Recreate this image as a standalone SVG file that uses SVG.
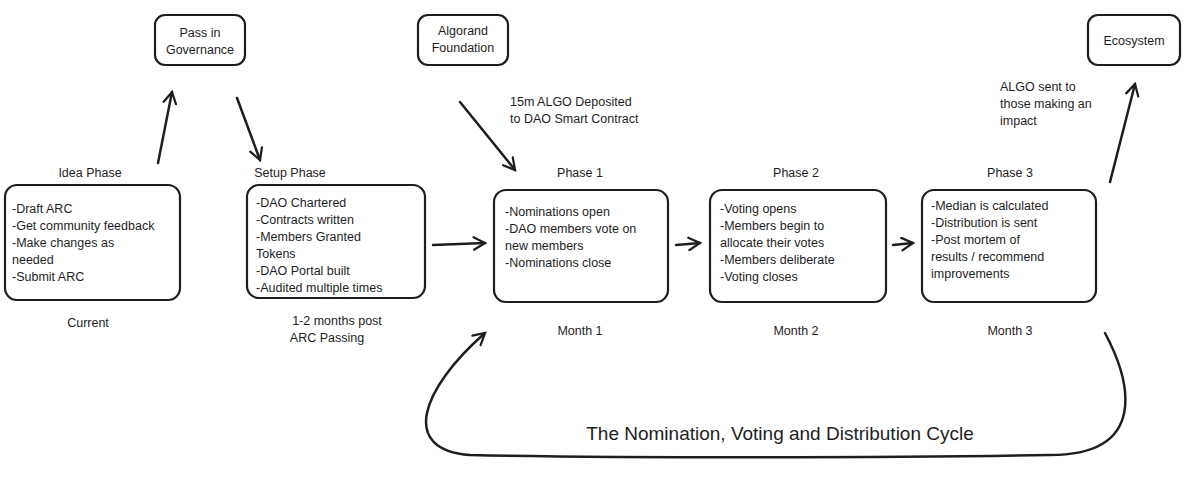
<svg xmlns="http://www.w3.org/2000/svg" width="1200" height="479" viewBox="0 0 1200 479">
<style>
.b{fill:#fff;stroke:#1e1e1e;stroke-width:2.2}
.t{font-family:"Liberation Sans",sans-serif;font-size:12.5px;fill:#1e1e1e}
.c{text-anchor:middle}
.l{fill:none;stroke:#1e1e1e;stroke-width:2.5;stroke-linecap:round;marker-end:url(#a)}
</style>
<defs><marker id="a" viewBox="0 0 12 12" refX="10" refY="6" markerWidth="6" markerHeight="6" orient="auto" markerUnits="strokeWidth"><path d="M1,1 L10,6 L1,11" fill="none" stroke="#1e1e1e" stroke-width="1.8" stroke-linecap="round"/></marker></defs>
<rect width="1200" height="479" fill="#fff"/>
<g id="idea"><text class="t c" x="90" y="177">Idea Phase</text><rect class="b" x="5" y="185" width="175" height="115" rx="12"/>
<text class="t" x="12" y="213">-Draft ARC</text><text class="t" x="12" y="230">-Get community feedback</text><text class="t" x="12" y="247">-Make changes as</text><text class="t" x="12" y="264">needed</text><text class="t" x="12" y="281">-Submit ARC</text>
<text class="t c" x="88" y="327">Current</text></g>
<g id="pass"><rect class="b" x="155" y="15" width="90" height="50" rx="10"/><text class="t c" x="200" y="37">Pass in</text><text class="t c" x="200" y="54">Governance</text></g>
<g id="setup"><text class="t c" x="290" y="177">Setup Phase</text><rect class="b" x="247" y="185" width="178" height="113" rx="12"/>
<text class="t" x="256" y="207">-DAO Chartered</text><text class="t" x="256" y="224">-Contracts written</text><text class="t" x="256" y="241">-Members Granted</text><text class="t" x="256" y="258">Tokens</text><text class="t" x="256" y="275">-DAO Portal built</text><text class="t" x="256" y="292">-Audited multiple times</text>
<text class="t c" x="337" y="325">1-2 months post</text><text class="t c" x="327" y="342">ARC Passing</text></g>
<g id="algorand"><rect class="b" x="418" y="15" width="90" height="50" rx="10"/><text class="t c" x="463" y="35">Algorand</text><text class="t c" x="463" y="52">Foundation</text></g>
<text class="t" x="510" y="106">15m ALGO Deposited</text><text class="t" x="510" y="123">to DAO Smart Contract</text>
<g id="p1"><text class="t c" x="580" y="177">Phase 1</text><rect class="b" x="494" y="190" width="174" height="112" rx="12"/>
<text class="t" x="505" y="216">-Nominations open</text><text class="t" x="505" y="233">-DAO members vote on</text><text class="t" x="505" y="250">new members</text><text class="t" x="505" y="267">-Nominations close</text>
<text class="t c" x="580" y="335">Month 1</text></g>
<g id="p2"><text class="t c" x="796" y="177">Phase 2</text><rect class="b" x="710" y="190" width="176" height="112" rx="12"/>
<text class="t" x="720" y="213">-Voting opens</text><text class="t" x="720" y="230">-Members begin to</text><text class="t" x="720" y="247">allocate their votes</text><text class="t" x="720" y="264">-Members deliberate</text><text class="t" x="720" y="281">-Voting closes</text>
<text class="t c" x="796" y="335">Month 2</text></g>
<g id="p3"><text class="t c" x="1010" y="177">Phase 3</text><rect class="b" x="922" y="190" width="174" height="112" rx="12"/>
<text class="t" x="931" y="210">-Median is calculated</text><text class="t" x="931" y="227">-Distribution is sent</text><text class="t" x="931" y="244">-Post mortem of</text><text class="t" x="931" y="261">results / recommend</text><text class="t" x="931" y="278">improvements</text>
<text class="t c" x="1010" y="335">Month 3</text></g>
<g id="eco"><rect class="b" x="1088" y="15" width="92" height="50" rx="10"/><text class="t c" x="1134" y="45">Ecosystem</text></g>
<text class="t" x="1000" y="91">ALGO sent to</text><text class="t" x="1000" y="108">those making an</text><text class="t" x="1000" y="125">impact</text>
<text class="t c" x="780" y="440" style="font-size:19px">The Nomination, Voting and Distribution Cycle</text>
<g id="connectors">
<path class="l" d="M158,163 L172,92"/>
<path class="l" d="M237,98 L260,160"/>
<path class="l" d="M433,245 L485,243"/>
<path class="l" d="M676,245 L700,243"/>
<path class="l" d="M893,245 L913,243"/>
<path class="l" d="M460,102 L515,170"/>
<path class="l" d="M1110,182 L1135,84"/>
<path class="l" d="M1105,333 C1130,380 1150,455 1050,455 C900,458 600,458 470,455 C400,450 420,390 485,333"/>
</g>
</svg>
